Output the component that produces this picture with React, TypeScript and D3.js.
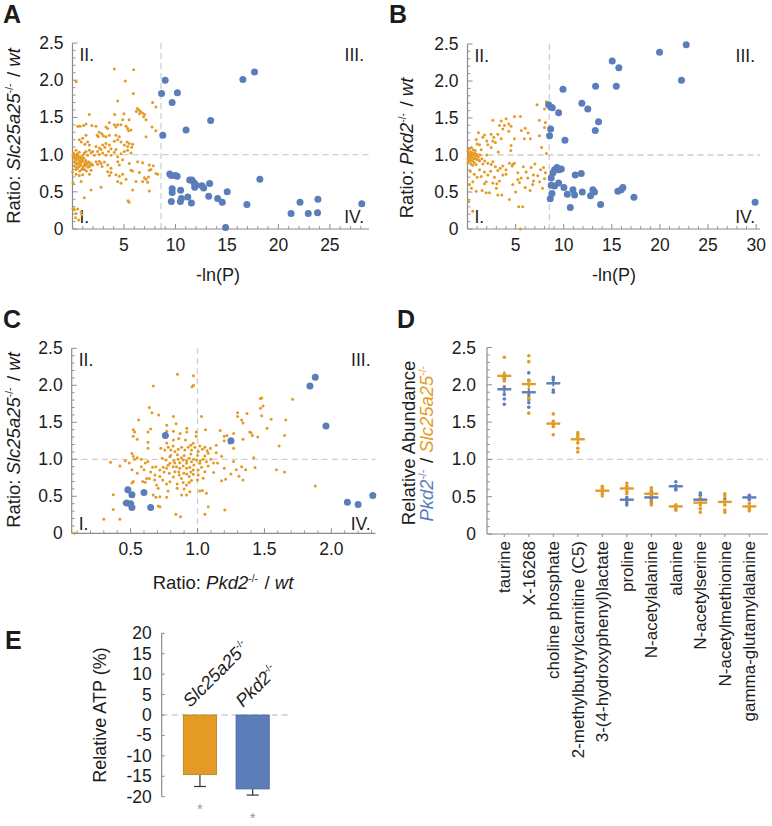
import React from 'react';
import * as d3 from 'd3';

const ORANGE = '#E39B26';
const BLUE = '#5B7DB9';
const AXIS = '#8c8c8c';
const DASH = '#cfcfcf';
const TXT = '#1c1c1c';
const FONT = '"Liberation Sans", Arial, Helvetica, sans-serif';

type Pt = [number, number];

// ---------- Panel A: -ln(P) vs Slc25a25-/- / wt ----------
const aOrange: Pt[] = [
  [0.35,1.98],[4.06,2.15],[5.94,2.14],[5.13,1.99],[5.91,1.82],[4.39,1.72],[7.78,1.70],[8.1,1.64],
  [6.3,1.62],[6.45,1.60],[6.6,1.58],[6.2,1.58],[6.8,1.56],[6.5,1.55],[7.0,1.54],
  [4.1,1.54],[5.0,1.55],[6.9,1.51],[1.63,1.54],[5.5,1.47],[4.87,1.47],[7.14,1.47],
  [3.58,1.43],[4.06,1.40],[4.22,1.37],[4.39,1.40],[0.5,1.38],[0.73,1.38],[1.08,1.39],[1.31,1.41],[1.89,1.39],[2.28,1.38],[3.25,1.37],[3.41,1.35],
  [4.7,1.40],[5.2,1.38],[5.36,1.35],[5.45,1.32],[5.68,1.33],[7.72,1.37],[8.1,1.32],
  [2.6,1.30],[2.85,1.28],[2.4,1.26],[3.0,1.25],[2.5,1.24],[3.25,1.24],[3.58,1.26],
  [1.31,1.26],[0.99,1.22],[0.66,1.20],[1.47,1.17],[1.64,1.13],[1.2,1.14],[0.85,1.17],
  [4.22,1.26],[4.55,1.24],[4.39,1.20],[4.06,1.18],[4.71,1.17],
  [5.3,1.17],[5.52,1.15],[5.84,1.14],[5.03,1.13],[5.36,1.11],[5.75,1.10],[7.14,1.24],
  [3.25,1.15],[2.93,1.13],[3.58,1.13],[3.15,1.10],[3.74,1.08],[2.61,1.09],[2.28,1.11],
  [0.1,1.02],[0.18,0.98],[0.34,1.06],[0.5,0.99],[0.66,1.03],[0.83,0.96],[0.18,0.95],[0.34,0.93],[0.6,0.92],[0.99,0.99],
  [1.15,1.02],[0.05,0.99],[1.31,1.04],[1.47,0.99],[1.64,1.06],[1.8,1.02],[1.96,1.04],[2.12,0.99],[2.44,1.04],[2.61,1.00],
  [2.93,1.02],[3.25,0.99],[2.77,1.07],[3.5,1.04],[3.74,0.99],[4.06,1.03],[4.39,0.97],[4.71,1.01],[5.03,1.04],[5.36,1.06],[5.68,1.02],[4.22,1.07],
  [0.25,0.97],[0.4,0.96],[0.45,1.01],[0.55,0.95],[0.7,0.97],[0.75,0.92],[0.9,0.94],[1.0,0.91],[1.1,0.95],[1.2,0.88],
  [1.3,0.92],[1.4,0.87],[0.3,0.89],[0.45,0.87],[0.6,0.88],[0.8,0.86],[1.05,0.84],[1.25,0.85],[1.5,0.83],[1.6,0.9],
  [1.75,0.86],[0.15,0.85],[0.5,0.82],[0.9,0.8],[1.15,0.8],[1.35,0.78],[0.7,0.78],[0.35,0.8],
  [0.18,0.905],[0.5,0.88],[0.83,0.895],[1.15,0.86],[1.31,0.905],[1.47,0.88],[1.64,0.84],[0.99,0.815],[0.66,0.84],[0.34,0.83],
  [1.8,0.88],[1.96,0.86],[2.28,0.905],[2.44,0.87],[2.61,0.91],[2.77,0.88],[2.87,0.84],[3.09,0.9],[3.42,0.86],[3.74,0.815],
  [4.39,0.905],[4.55,0.86],[4.87,0.93],[5.52,0.88],[5.68,0.79],[6.33,0.905],[6.81,0.89],[7.46,0.86],[7.85,0.85],[7.46,0.79],[7.62,0.80],
  [0.02,0.77],[0.34,0.735],[0.66,0.72],[0.99,0.73],[1.64,0.735],[1.8,0.79],[3.42,0.77],[3.74,0.76],[3.58,0.72],[4.22,0.73],
  [4.55,0.71],[4.87,0.735],[5.2,0.67],[4.39,0.64],[6.98,0.69],[7.14,0.67],[7.38,0.70],[8.11,0.745],[8.27,0.735],[5.84,0.78],[6.49,0.76],
  [0.05,0.62],[0.83,0.64],[4.71,0.615],[7.3,0.63],[6.81,0.64],[6.17,0.64],[2.77,0.56],[1.8,0.525],[5.84,0.525],[7.46,0.51],[1.15,0.42],
  [5.4,0.38],[5.5,0.36],
  [0.05,0.28],[0.18,0.26],[0.5,0.27],[0.83,0.23],[0.34,0.21],[0.9,0.19],[0.3,0.15],[0.6,0.12],
];
const aBlue: Pt[] = [
  [9.0,2.0],[8.65,1.82],[10.19,1.83],[9.68,1.70],[16.55,2.01],[17.68,2.11],[13.42,1.46],[11.03,1.33],[8.77,1.26],
  [9.45,0.74],[9.6,0.72],[10.0,0.72],[10.16,0.71],[9.68,0.54],[9.68,0.49],[10.5,0.52],[11.39,0.66],[11.6,0.66],[11.8,0.62],
  [12.0,0.59],[11.87,0.56],[12.58,0.58],[12.74,0.55],[13.32,0.61],[15.03,0.50],[18.2,0.67],[10.58,0.41],[10.48,0.37],[9.6,0.37],
  [11.2,0.43],[11.55,0.35],[13.23,0.44],[14.1,0.41],[14.55,0.36],[16.94,0.33],[14.87,0.02],[21.23,0.21],[22.1,0.36],[22.9,0.21],
  [23.8,0.22],[23.84,0.40],[28.1,0.34],
];

// ---------- Panel B: -ln(P) vs Pkd2-/- / wt ----------
const bOrange: Pt[] = [
  [7.23,1.68],[8.0,1.62],[8.2,1.72],[4.88,1.52],[5.5,1.52],[4.01,1.49],[3.5,1.46],[2.63,1.47],[3.32,1.40],[3.84,1.40],
  [4.29,1.42],[4.53,1.39],[7.47,1.47],[8.0,1.37],[8.1,1.44],[1.14,1.30],[1.77,1.27],[1.59,1.24],[2.46,1.28],[2.73,1.24],
  [3.67,1.35],[4.29,1.32],[3.15,1.28],[3.5,1.22],[4.88,1.22],[5.92,1.22],[6.54,1.22],[7.47,1.26],[4.53,1.13],[0.9,1.21],
  [1.25,1.14],[1.42,1.07],[2.11,1.14],[2.63,1.19],[2.46,1.10],[2.0,1.19],[2.9,1.17],[1.0,1.15],
  [0.05,1.05],[0.15,1.02],[0.25,0.98],[0.35,1.04],[0.45,0.97],[0.55,1.01],[0.65,0.95],[0.75,1.03],[0.85,0.99],[0.95,0.94],
  [0.1,0.96],[0.3,0.93],[0.5,0.92],[0.7,0.9],[0.2,1.08],[0.4,1.1],[0.6,1.07],[0.8,1.06],[1.0,1.01],[1.1,0.97],
  [1.2,0.93],[1.3,1.0],[0.05,0.9],[0.35,0.88],[0.9,0.87],[0.15,0.92],[0.55,0.86],[0.25,1.01],[0.45,1.03],[0.65,1.0],
  [1.5,0.95],[1.6,0.88],[1.8,0.92],[0.4,0.96],[0.75,0.96],[0.05,0.95],[0.2,0.99],
  [1.25,0.92],[2.11,0.89],[2.46,0.87],[2.63,0.91],[4.36,0.89],[4.7,0.87],[4.88,0.89],[4.64,0.85],[3.67,0.85],[3.15,0.79],
  [1.25,0.80],[1.77,0.77],[1.42,0.71],[2.11,0.73],[0.55,0.64],[1.94,0.64],[1.77,0.61],[2.63,0.62],[3.05,0.61],[3.32,0.65],
  [3.67,0.73],[4.01,0.74],[5.23,0.76],[6.09,0.77],[6.26,0.69],[6.61,0.83],[6.85,0.73],[6.85,0.65],[5.57,0.69],[5.23,0.67],
  [5.4,0.63],[6.78,0.60],[4.7,0.60],[1.52,0.52],[0.9,0.51],[1.94,0.49],[2.28,0.49],[3.15,0.46],[3.57,0.46],[4.36,0.40],
  [5.33,0.30],[5.74,0.30],[0.14,0.37],[0.55,0.24],[5.5,0.0],
  [2.9,0.84],[3.4,0.82],[4.0,0.8],[5.8,0.84],[7.0,0.88],[7.6,0.8],[7.9,0.83],[7.3,0.72],[8.0,0.68],[7.5,0.64],
  [2.4,0.78],[2.8,0.7],[0.3,0.78],[0.7,0.74],[1.0,0.7],[0.2,0.6],[0.4,0.55],[6.0,0.56],[6.5,0.52],[7.8,0.55],
  [5.0,0.5],[3.0,0.55],[8.1,0.76],[8.2,1.02],[7.7,1.1],[6.3,1.3],[5.6,1.33],[6.0,1.36],[2.0,1.0],[3.2,1.04],[4.5,1.06],
];
const bBlue: Pt[] = [
  [22.73,2.49],[19.96,2.39],[22.24,2.01],[15.04,2.27],[15.73,2.18],[15.46,1.93],[13.31,1.93],[9.92,1.89],[8.43,1.68],[8.64,1.65],
  [8.81,1.64],[9.47,1.57],[11.89,1.70],[12.5,1.62],[13.62,1.45],[13.28,1.33],[8.64,1.35],[8.53,1.26],[10.13,1.20],
  [8.88,0.76],[9.05,0.80],[9.3,0.83],[9.5,0.80],[9.75,0.81],[8.7,0.69],[11.2,0.73],[11.82,0.75],[8.7,0.59],[9.05,0.58],
  [9.47,0.62],[10.02,0.56],[8.78,0.48],[8.6,0.41],[10.37,0.47],[10.96,0.53],[11.13,0.46],[11.93,0.50],[12.79,0.45],[13.03,0.53],
  [13.2,0.50],[10.68,0.29],[13.83,0.33],[15.63,0.51],[15.98,0.53],[16.15,0.56],[17.3,0.43],[29.89,0.36],
];

// ---------- Panel C: Pkd2-/- / wt vs Slc25a25-/- / wt ----------
const cOrange: Pt[] = [
  [0.726,1.149],[0.756,1.126],[0.781,1.162],[0.801,1.126],[0.818,1.18],[0.831,1.104],[0.856,1.135],[0.881,1.162],[0.905,1.126],[0.93,1.162],
  [0.955,1.126],[0.968,1.216],[0.98,1.162],[1.005,1.104],[1.017,1.18],[1.037,1.135],[1.055,1.162],[1.072,1.117],[1.097,1.149],[1.08,1.081],[1.055,1.045],
  [0.736,1.014],[0.764,0.991],[0.794,1.036],[0.823,0.982],[0.856,1.0],[0.868,0.955],[0.893,0.991],[0.918,0.946],[0.938,1.014],[0.955,0.968],
  [0.973,0.923],[0.993,0.991],[1.017,0.946],[1.042,1.0],[1.067,0.968],[1.08,0.91],[1.03,0.892],[1.005,0.856],[0.968,0.856],[0.943,0.892],
  [0.918,0.878],[0.893,0.91],[0.868,0.878],[0.843,0.901],[0.818,0.901],[0.794,0.946],[0.769,0.878],[0.744,0.892],[0.719,0.856],[0.689,0.901],[0.664,0.892],
  [0.682,0.788],[0.719,0.766],[0.789,0.811],[0.831,0.833],[0.863,0.788],[0.898,0.811],[0.938,0.766],[0.968,0.797],[1.005,0.788],[1.055,0.833],[1.042,0.743],
  [0.694,0.653],[0.706,0.608],[0.769,0.667],[0.794,0.698],[0.848,0.667],[0.893,0.685],[0.918,0.653],[0.938,0.685],[0.955,0.712],[0.848,0.608],[0.943,0.563],
  [0.669,0.518],[0.689,0.486],[0.719,0.495],[0.769,0.486],[0.881,0.518],[0.918,0.518],[1.017,0.572],[1.037,0.577],[1.067,0.541],
  [0.706,0.369],[0.719,0.36],[1.08,0.36],[1.055,0.257],[0.838,0.257],[0.873,0.225],[1.204,0.315],
  [0.8,1.05],[0.85,1.06],[0.9,1.05],[0.95,1.07],[1.0,1.05],[0.88,1.02],[0.83,0.95],[0.78,0.92],[0.92,0.98],[0.97,1.0],
  [1.02,0.98],[1.1,1.0],[1.12,0.95],[0.75,0.83],[0.82,0.76],[0.88,0.74],[0.95,0.83],[1.0,0.72],[0.9,0.6],[0.78,0.57],
  [0.74,0.72],[0.86,0.83],[0.92,0.8],
  [0.35,0.96],[0.42,0.91],[0.46,0.98],[0.49,0.95],[0.53,1.0],[0.58,1.0],[0.61,0.95],[0.63,0.97],[0.51,1.08],[0.52,1.04],
  [0.55,1.02],[0.51,0.86],[0.55,0.81],[0.60,0.86],[0.62,0.74],[0.59,0.70],[0.52,0.70],[0.51,0.68],[0.61,0.69],[0.64,0.74],
  [0.37,0.52],[0.37,0.32],[0.45,0.41],[0.30,0.19],[0.42,0.19],[0.08,0.0],[0.58,0.9],[0.65,0.83],[0.68,0.72],
  [0.85,2.15],[0.97,2.13],[0.97,2.0],[0.96,1.98],[0.67,1.99],[0.64,1.70],[0.66,1.63],[0.71,1.60],[0.82,1.58],[0.56,1.53],
  [0.77,1.46],[0.84,1.48],[0.92,1.42],[1.03,1.58],[0.52,1.40],[0.53,1.37],[0.52,1.31],[0.63,1.37],[0.65,1.41],[0.55,1.27],
  [0.63,1.23],[0.63,1.15],[0.77,1.38],[0.82,1.38],[0.87,1.35],[0.92,1.37],[0.99,1.37],[1.06,1.40],[0.77,1.22],[0.82,1.26],
  [0.86,1.28],[0.91,1.26],[0.95,1.19],[0.99,1.31],
  [1.14,1.19],[1.17,1.39],[1.22,1.32],[1.20,1.31],[1.27,1.35],[1.30,1.63],[1.30,1.58],[1.33,1.53],[1.34,1.49],[1.37,1.62],
  [1.39,1.37],[1.40,1.36],[1.41,1.32],[1.34,1.27],[1.47,1.82],[1.48,1.83],[1.47,1.69],[1.49,1.72],[1.48,1.59],[1.55,1.54],
  [1.66,1.53],[1.71,1.81],[1.14,1.09],[1.18,1.04],[1.27,0.97],[1.29,0.86],[1.33,0.90],[1.36,0.86],[1.31,0.77],[1.34,0.72],
  [1.42,1.02],[1.43,0.89],[1.18,0.71],[1.21,0.73],[1.59,0.86],[1.65,0.83],[1.61,1.18],[1.65,1.32],[1.88,0.64],[1.24,1.22],
  [1.2,1.25],[1.27,1.15],[1.15,0.95],[1.2,0.88],[1.25,0.8],[1.12,0.82],[1.52,1.42],[1.45,1.3],
];
const cBlue: Pt[] = [
  [1.88,2.11],[1.84,1.99],[1.96,1.45],[2.12,0.42],[2.2,0.39],[2.31,0.51],[0.76,1.32],[1.25,1.25],
  [0.48,0.59],[0.51,0.52],[0.47,0.41],[0.50,0.40],[0.51,0.35],[0.60,0.55],[0.65,0.35],
];

// ---------- Panel D: relative abundance of selected metabolites ----------
const dCategories = [
  'taurine', 'X-16268', 'choline phosphate', '2-methylbutyrylcarnitine (C5)', '3-(4-hydroxyphenyl)lactate',
  'proline', 'N-acetylalanine', 'alanine', 'N-acetylserine', 'N-acetylmethionine', 'gamma-glutamylalanine',
];
const dSlcMean: (number | null)[] = [2.12, 2.01, 1.48, 1.27, 0.58, 0.61, 0.54, 0.37, 0.42, 0.43, 0.37];
const dPkdMean: (number | null)[] = [1.94, 1.90, 2.02, null, null, 0.46, 0.49, 0.64, 0.46, null, 0.49];
const dSlcSem: number[] = [0.06, 0.07, 0.05, 0.04, 0.03, 0.03, 0.04, 0.02, 0.04, 0.04, 0.02];
const dPkdSem: number[] = [0.05, 0.06, 0.04, 0, 0, 0.02, 0.03, 0.03, 0.02, 0, 0.02];
const dSlcDots: number[][] = [
  [2.37, 2.14, 2.10, 1.97, 2.05], [2.39, 2.31, 2.05, 1.87, 1.84, 1.81, 1.62], [1.61, 1.51, 1.47, 1.44, 1.33],
  [1.36, 1.33, 1.30, 1.22, 1.15, 1.10], [0.64, 0.61, 0.54, 0.51, 0.57], [0.68, 0.64, 0.57, 0.54],
  [0.62, 0.59, 0.46, 0.41, 0.39], [0.39, 0.34, 0.32], [0.48, 0.39, 0.34, 0.29], [0.54, 0.51, 0.39, 0.32, 0.29], [0.41, 0.34, 0.31],
];
const dPkdDots: number[][] = [
  [2.08, 1.97, 1.87, 1.81, 1.74], [2.16, 2.06, 1.80, 1.76, 1.70], [2.10, 2.07, 1.93, 1.90], [], [],
  [0.49, 0.42, 0.39], [0.57, 0.51, 0.43], [0.70, 0.61, 0.59], [0.55, 0.52], [0.47], [0.52, 0.46],
];

// ---------- Panel E: relative ATP ----------
const eGroups = ['Slc25a25', 'Pkd2'];
const eMean = [-14.6, -18.1];
const eSem = [2.9, 1.5];
const eColors = [ORANGE, BLUE];
const eTicks = [20, 15, 10, 5, 0, -5, -10, -15, -20];

const fmtRatio = (v: number) => (v === 0 ? '0' : v.toFixed(1));

function Geno({ name, fs, color }: { name: string; fs: number; color?: string }) {
  return (
    <>
      <tspan fontStyle="italic" fill={color}>{name}</tspan>
      <tspan fontSize={fs * 0.55} dy={-fs * 0.4} fill={color}>-/-</tspan>
      <tspan dy={fs * 0.4}>{'\u200A'}</tspan>
    </>
  );
}

type ScatterProps = {
  left: number; right: number; top: number; bottom: number;
  xDomain: [number, number]; xMajor: number[]; xMinor: number[]; xFmt: (v: number) => string;
  vLine: number; orange: Pt[]; blue: Pt[]; quadBottomOffset: number;
};

function Scatter(p: ScatterProps) {
  const x = d3.scaleLinear().domain(p.xDomain).range([p.left, p.right]);
  const y = d3.scaleLinear().domain([0, 2.5]).range([p.bottom, p.top]);
  const yMajor = d3.range(0, 2.51, 0.5);
  const yMinor = d3.range(0.1, 2.5, 0.1).filter((v) => Math.abs(v * 2 - Math.round(v * 2)) > 1e-6);
  const fs = 17.5;
  return (
    <g>
      <line x1={x(p.vLine)} x2={x(p.vLine)} y1={p.top} y2={p.bottom} stroke={DASH} strokeWidth={1.3} strokeDasharray="6,4" />
      <line x1={p.left} x2={p.right} y1={y(1)} y2={y(1)} stroke={DASH} strokeWidth={1.3} strokeDasharray="6,4" />
      <line x1={p.left} x2={p.left} y1={p.top} y2={p.bottom} stroke={AXIS} strokeWidth={1.2} />
      <line x1={p.left} x2={p.right} y1={p.bottom} y2={p.bottom} stroke={AXIS} strokeWidth={1.2} />
      {yMajor.map((v) => (
        <g key={'ym' + v}>
          <line x1={p.left} x2={p.left + 5} y1={y(v)} y2={y(v)} stroke={AXIS} strokeWidth={1} />
          <text x={p.left - 9} y={y(v) + 6} textAnchor="end" fontSize={fs} fill={TXT}>{fmtRatio(v)}</text>
        </g>
      ))}
      {yMinor.map((v) => (
        <line key={'yn' + v} x1={p.left} x2={p.left + 3} y1={y(v)} y2={y(v)} stroke={AXIS} strokeWidth={0.9} />
      ))}
      {p.xMajor.map((v) => (
        <g key={'xm' + v}>
          <line x1={x(v)} x2={x(v)} y1={p.bottom} y2={p.bottom - 5} stroke={AXIS} strokeWidth={1} />
          <text x={x(v)} y={p.bottom + 22} textAnchor="middle" fontSize={fs} fill={TXT}>{p.xFmt(v)}</text>
        </g>
      ))}
      {p.xMinor.map((v) => (
        <line key={'xn' + v} x1={x(v)} x2={x(v)} y1={p.bottom} y2={p.bottom - 3} stroke={AXIS} strokeWidth={0.9} />
      ))}
      <text x={p.left + 7} y={p.top + 18} fontSize={fs} fill={TXT}>II.</text>
      <text x={p.right - 5} y={p.top + 18} fontSize={fs} fill={TXT} textAnchor="end">III.</text>
      <text x={p.left + 7} y={p.bottom - p.quadBottomOffset} fontSize={fs} fill={TXT}>I.</text>
      <text x={p.right - 5} y={p.bottom - p.quadBottomOffset} fontSize={fs} fill={TXT} textAnchor="end">IV.</text>
      {p.orange.map((d, i) => (
        <circle key={'o' + i} cx={x(d[0])} cy={y(d[1])} r={1.5} fill={ORANGE} />
      ))}
      {p.blue.map((d, i) => (
        <circle key={'b' + i} cx={x(d[0])} cy={y(d[1])} r={3.5} fill={BLUE} />
      ))}
    </g>
  );
}

function PanelD() {
  const left = 487, right = 768, top = 347.5, bottom = 534;
  const x = d3.scalePoint<string>().domain(dCategories).range([504.3, 749.3]);
  const y = d3.scaleLinear().domain([0, 2.5]).range([bottom, top]);
  const yMajor = d3.range(0, 2.51, 0.5);
  const yMinor = d3.range(0.1, 2.5, 0.1).filter((v) => Math.abs(v * 2 - Math.round(v * 2)) > 1e-6);
  const fs = 17.5;
  const half = 7;
  return (
    <g>
      <line x1={left} x2={right} y1={y(1)} y2={y(1)} stroke={DASH} strokeWidth={1.3} strokeDasharray="6,4" />
      <line x1={left} x2={left} y1={top} y2={bottom} stroke={AXIS} strokeWidth={1.2} />
      <line x1={left} x2={right} y1={bottom} y2={bottom} stroke={AXIS} strokeWidth={1.2} />
      {yMajor.map((v) => (
        <g key={'ym' + v}>
          <line x1={left} x2={left + 5} y1={y(v)} y2={y(v)} stroke={AXIS} strokeWidth={1} />
          <text x={left - 11} y={y(v) + 6} textAnchor="end" fontSize={fs} fill={TXT}>{fmtRatio(v)}</text>
        </g>
      ))}
      {yMinor.map((v) => (
        <line key={'yn' + v} x1={left} x2={left + 3} y1={y(v)} y2={y(v)} stroke={AXIS} strokeWidth={0.9} />
      ))}
      {dCategories.map((c) => (
        <g key={c}>
          <line x1={x(c)!} x2={x(c)!} y1={bottom} y2={bottom + 3} stroke={AXIS} strokeWidth={1} />
          <text transform={`translate(${x(c)! + 6},${bottom + 7}) rotate(-90)`} textAnchor="end" fontSize={17} fill={TXT}>{c}</text>
        </g>
      ))}
      {dCategories.map((c, i) => (
        <g key={'dots' + c}>
          {dPkdDots[i].map((v, j) => (
            <circle key={'p' + j} cx={x(c)!} cy={y(v)} r={1.8} fill={BLUE} />
          ))}
          {dSlcDots[i].map((v, j) => (
            <circle key={'s' + j} cx={x(c)!} cy={y(v)} r={1.8} fill={ORANGE} />
          ))}
        </g>
      ))}
      {dCategories.map((c, i) => (
        <g key={'means' + c}>
          {dPkdMean[i] !== null && (
            <g>
              <line x1={x(c)! - half} x2={x(c)! + half} y1={y(dPkdMean[i]!)} y2={y(dPkdMean[i]!)} stroke={BLUE} strokeWidth={2.4} />
              <line x1={x(c)!} x2={x(c)!} y1={y(dPkdMean[i]! - dPkdSem[i])} y2={y(dPkdMean[i]! + dPkdSem[i])} stroke={BLUE} strokeWidth={2} />
            </g>
          )}
          {dSlcMean[i] !== null && (
            <g>
              <line x1={x(c)! - half} x2={x(c)! + half} y1={y(dSlcMean[i]!)} y2={y(dSlcMean[i]!)} stroke={ORANGE} strokeWidth={2.4} />
              <line x1={x(c)!} x2={x(c)!} y1={y(dSlcMean[i]! - dSlcSem[i])} y2={y(dSlcMean[i]! + dSlcSem[i])} stroke={ORANGE} strokeWidth={2} />
            </g>
          )}
        </g>
      ))}
      <text transform="translate(414.5,443) rotate(-90)" textAnchor="middle" fontSize={18.5} fill={TXT}>Relative Abundance</text>
      <text transform="translate(433,443) rotate(-90)" textAnchor="middle" fontSize={18.5} fill={TXT}>
        <Geno name="Pkd2" fs={18.5} color={BLUE} />
        <tspan> / </tspan>
        <Geno name="Slc25a25" fs={18.5} color={ORANGE} />
      </text>
    </g>
  );
}

function PanelE() {
  const axisX = 161.7;
  const y = d3.scaleLinear().domain([-20, 20]).range([796.7, 633.3]);
  const x = d3.scaleBand<string>().domain(eGroups).range([172.8, 279.8]).paddingInner(0.37).paddingOuter(0.2);
  const fs = 17.5;
  return (
    <g>
      <line x1={axisX} x2={292} y1={y(0)} y2={y(0)} stroke={DASH} strokeWidth={1.3} strokeDasharray="6,4" />
      <line x1={axisX} x2={axisX} y1={y(20)} y2={y(-20)} stroke={AXIS} strokeWidth={1.2} />
      {eTicks.map((v) => (
        <g key={v}>
          <line x1={axisX} x2={axisX + 3} y1={y(v)} y2={y(v)} stroke={AXIS} strokeWidth={1} />
          <text x={axisX - 10} y={y(v) + 6} textAnchor="end" fontSize={fs} fill={TXT}>{String(v)}</text>
        </g>
      ))}
      {eGroups.map((g, i) => {
        const x0 = x(g)!;
        const bw = x.bandwidth();
        const cx = x0 + bw / 2;
        const top = y(0);
        const bot = y(eMean[i]);
        const err = y(eMean[i] - eSem[i]);
        return (
          <g key={g}>
            <line x1={cx} x2={cx} y1={bot} y2={err} stroke="#333" strokeWidth={1.2} />
            <line x1={cx - 6} x2={cx + 6} y1={err} y2={err} stroke="#333" strokeWidth={1.2} />
            <rect x={x0} y={top} width={bw} height={bot - top} fill={eColors[i]} stroke={d3.color(eColors[i])!.darker(0.6).toString()} strokeWidth={0.8} />
            <text transform={`translate(${x0 + 7},${y(0) - 7}) rotate(-45)`} fontSize={18} fill={TXT}>
              <Geno name={g} fs={18} />
            </text>
            <text x={cx} y={err + 28} textAnchor="middle" fontSize={15} fill="#999">*</text>
          </g>
        );
      })}
      <text transform="translate(106,715) rotate(-90)" textAnchor="middle" fontSize={18} fill={TXT}>Relative ATP (%)</text>
    </g>
  );
}

export default function App() {
  const aMinor = d3.range(1, 29, 1).filter((v) => v % 5 !== 0);
  const bMinor = d3.range(1, 31, 1).filter((v) => v % 5 !== 0);
  const cMinor = d3.range(0.1, 2.35, 0.1).filter((v) => Math.abs(v * 2 - Math.round(v * 2)) > 1e-6);
  return (
    <svg width={772} height={826} style={{ position: 'absolute', left: 0, top: 0, background: '#fff' }} fontFamily={FONT}>
      <rect x={0} y={0} width={772} height={826} fill="#fff" />
      <text x={3} y={23} fontSize={25} fontWeight="bold" fill={TXT}>A</text>
      <text x={389} y={23} fontSize={25} fontWeight="bold" fill={TXT}>B</text>
      <text x={3} y={328} fontSize={25} fontWeight="bold" fill={TXT}>C</text>
      <text x={397} y={328} fontSize={25} fontWeight="bold" fill={TXT}>D</text>
      <text x={5} y={649} fontSize={25} fontWeight="bold" fill={TXT}>E</text>

      <Scatter left={72.5} right={369} top={43} bottom={229} xDomain={[0, 28.8]} xMajor={[5, 10, 15, 20, 25]} xMinor={aMinor}
        xFmt={(v) => String(v)} vLine={8.6} orange={aOrange} blue={aBlue} quadBottomOffset={6} />
      <text transform="translate(20,136) rotate(-90)" textAnchor="middle" fontSize={18.5} fill={TXT}>
        <tspan>Ratio: </tspan><Geno name="Slc25a25" fs={18.5} /><tspan> / </tspan><tspan fontStyle="italic">wt</tspan>
      </text>
      <text x={218} y={281} textAnchor="middle" fontSize={18} fill={TXT}>-ln(P)</text>

      <Scatter left={467.5} right={760} top={44} bottom={229} xDomain={[0, 30.4]} xMajor={[5, 10, 15, 20, 25, 30]} xMinor={bMinor}
        xFmt={(v) => String(v)} vLine={8.5} orange={bOrange} blue={bBlue} quadBottomOffset={6} />
      <text transform="translate(413,148) rotate(-90)" textAnchor="middle" fontSize={18.5} fill={TXT}>
        <tspan>Ratio: </tspan><Geno name="Pkd2" fs={18.5} /><tspan> / </tspan><tspan fontStyle="italic">wt</tspan>
      </text>
      <text x={614} y={281} textAnchor="middle" fontSize={18} fill={TXT}>-ln(P)</text>

      <Scatter left={71.7} right={375.5} top={348.3} bottom={533.3} xDomain={[0.06, 2.33]} xMajor={[0.5, 1.0, 1.5, 2.0]} xMinor={cMinor}
        xFmt={(v) => v.toFixed(1)} vLine={1.0} orange={cOrange} blue={cBlue} quadBottomOffset={3} />
      <text transform="translate(20,440) rotate(-90)" textAnchor="middle" fontSize={18.5} fill={TXT}>
        <tspan>Ratio: </tspan><Geno name="Slc25a25" fs={18.5} /><tspan> / </tspan><tspan fontStyle="italic">wt</tspan>
      </text>
      <text x={223} y={589} textAnchor="middle" fontSize={18.5} fill={TXT}>
        <tspan>Ratio: </tspan><Geno name="Pkd2" fs={18.5} /><tspan> / </tspan><tspan fontStyle="italic">wt</tspan>
      </text>

      <PanelD />
      <PanelE />
    </svg>
  );
}
